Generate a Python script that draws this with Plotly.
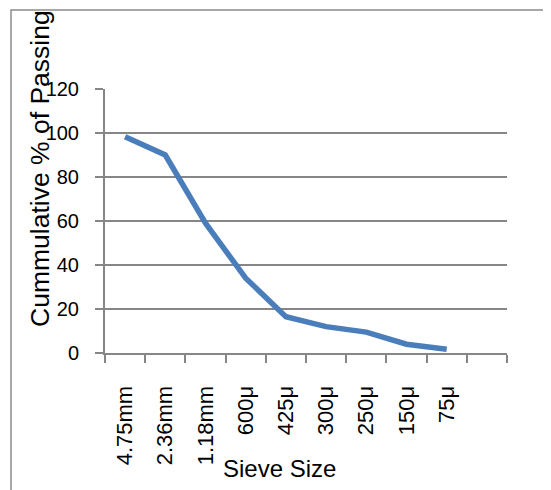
import plotly.graph_objects as go

sieve_sizes = ["4.75mm", "2.36mm", "1.18mm", "600μ", "425μ", "300μ", "250μ", "150μ", "75μ"]
cum_passing = [98.3, 90, 59, 34, 16.5, 12, 9.5, 4, 1.7]
y_ticks = [0, 20, 40, 60, 80, 100, 120]

FONT = "Liberation Sans, Arial, sans-serif"
GRID = "#868686"
OFF = 8  # page offset of the figure inside the window

# target plot-area edges in window pixels
PL, PR, PT, PB = 105, 507, 89, 353
W, H = 551 - OFF, 490 - OFF
pw, ph = PR - PL, PB - PT


def px(x):
    return (x - PL) / pw


def py(y):
    return (PB - y) / ph


x_pos = list(range(len(sieve_sizes)))

fig = go.Figure()
fig.add_trace(go.Scatter(
    x=x_pos, y=cum_passing, mode="lines",
    line=dict(color="#4A7EBB", width=5.5),
    showlegend=False, hoverinfo="skip",
))

fig.update_layout(
    width=W, height=H,
    margin=dict(l=PL - OFF, r=W - (PR - OFF), t=PT - OFF, b=H - (PB - OFF), autoexpand=False),
    paper_bgcolor="white", plot_bgcolor="white",
    font=dict(family=FONT, color="black"),
    xaxis=dict(
        range=[-0.5, 9.5], automargin=False,
        tickmode="array", tickvals=x_pos, ticktext=sieve_sizes,
        tickangle=-90, ticks="",
        tickfont=dict(size=22, family=FONT, color="black"),
        ticklabelstandoff=22,
        showgrid=False, zeroline=False,
        showline=True, linecolor=GRID, linewidth=2,
        minor=dict(tick0=-0.5, dtick=1, ticks="outside", ticklen=8,
                   tickcolor=GRID, tickwidth=2, showgrid=False),
        fixedrange=True,
    ),
    yaxis=dict(
        range=[0, 120], automargin=False,
        tickmode="array", tickvals=y_ticks,
        ticks="outside", ticklen=8, tickcolor=GRID, tickwidth=2,
        tickfont=dict(size=20, family=FONT, color="black"),
        ticklabelstandoff=12,
        showgrid=True, gridcolor=GRID, gridwidth=2,
        zeroline=False,
        showline=True, linecolor=GRID, linewidth=2,
        fixedrange=True,
    ),
    shapes=[
        dict(type="rect", xref="paper", yref="paper", layer="above",
             x0=px(11), x1=px(600), y0=py(600), y1=py(10),
             fillcolor="rgba(0,0,0,0)",
             line=dict(color="#8c8c8c", width=1.5)),
    ],
    annotations=[
        dict(text="Cummulative % of Passing", xref="paper", yref="paper",
             x=px(40), y=py(169),
             xanchor="center", yanchor="middle", textangle=-90,
             showarrow=False, font=dict(size=26.5, family=FONT, color="black")),
        dict(text="Sieve Size", xref="paper", yref="paper",
             x=px(279), y=py(468),
             xanchor="center", yanchor="middle",
             showarrow=False, font=dict(size=24, family=FONT, color="black")),
    ],
)

fig.write_html("out.html")
